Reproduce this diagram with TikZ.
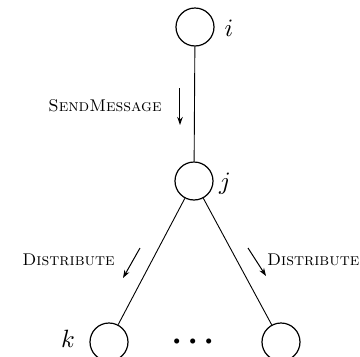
\documentclass[tikz,border=0pt]{standalone}
\usetikzlibrary{arrows.meta}
\begin{document}
\begin{tikzpicture}[x=1pt,y=-1pt,
  vert/.style={circle,draw,line width=1.2pt,minimum size=38pt,inner sep=0pt},
  edge/.style={line width=0.9pt},
  msg/.style={-{Stealth[length=8pt,width=5.5pt]},line width=1pt},
  lbl/.style={font=\fontsize{17}{19}\selectfont\scshape,inner sep=0pt},
  vlbl/.style={font=\normalsize,inner sep=0pt,scale=2.5,transform shape},
  dotlbl/.style={font=\normalsize,inner sep=0pt,scale=4.8,transform shape}]
\useasboundingbox (0,0) rectangle (360,357);
\node[vert] (i) at (195,27) {};
\node[vert] (j) at (194,181) {};
\node[vert] (k) at (109,342) {};
\node[vert] (m) at (281,342) {};
\node[vlbl] (li) at (229,28) {$i$};
\node[vlbl] (lj) at (225,184) {$j$};
\node[vlbl] (lk) at (68,339) {$k$};
\node[dotlbl] (dots) at (193,343) {${\cdot}\mkern1mu{\cdot}\mkern1mu{\cdot}$};
\draw[edge] (i) -- (j);
\draw[edge] (j) -- (k);
\draw[edge] (j) -- (m);
\coordinate (a1) at (180,88);
\coordinate (a2) at (180,125);
\draw[msg] (a1) -- (a2);
\coordinate (b1) at (140,248);
\coordinate (b2) at (123,278);
\draw[msg] (b1) -- (b2);
\coordinate (c1) at (248,248);
\coordinate (c2) at (266,276);
\draw[msg] (c1) -- (c2);
\node[lbl] (s) at (105,106) {SendMessage};
\node[lbl] (d1) at (68.5,260) {Distribute};
\node[lbl,anchor=east] (d2) at (359.5,260) {Distribute};
\end{tikzpicture}
\end{document}
